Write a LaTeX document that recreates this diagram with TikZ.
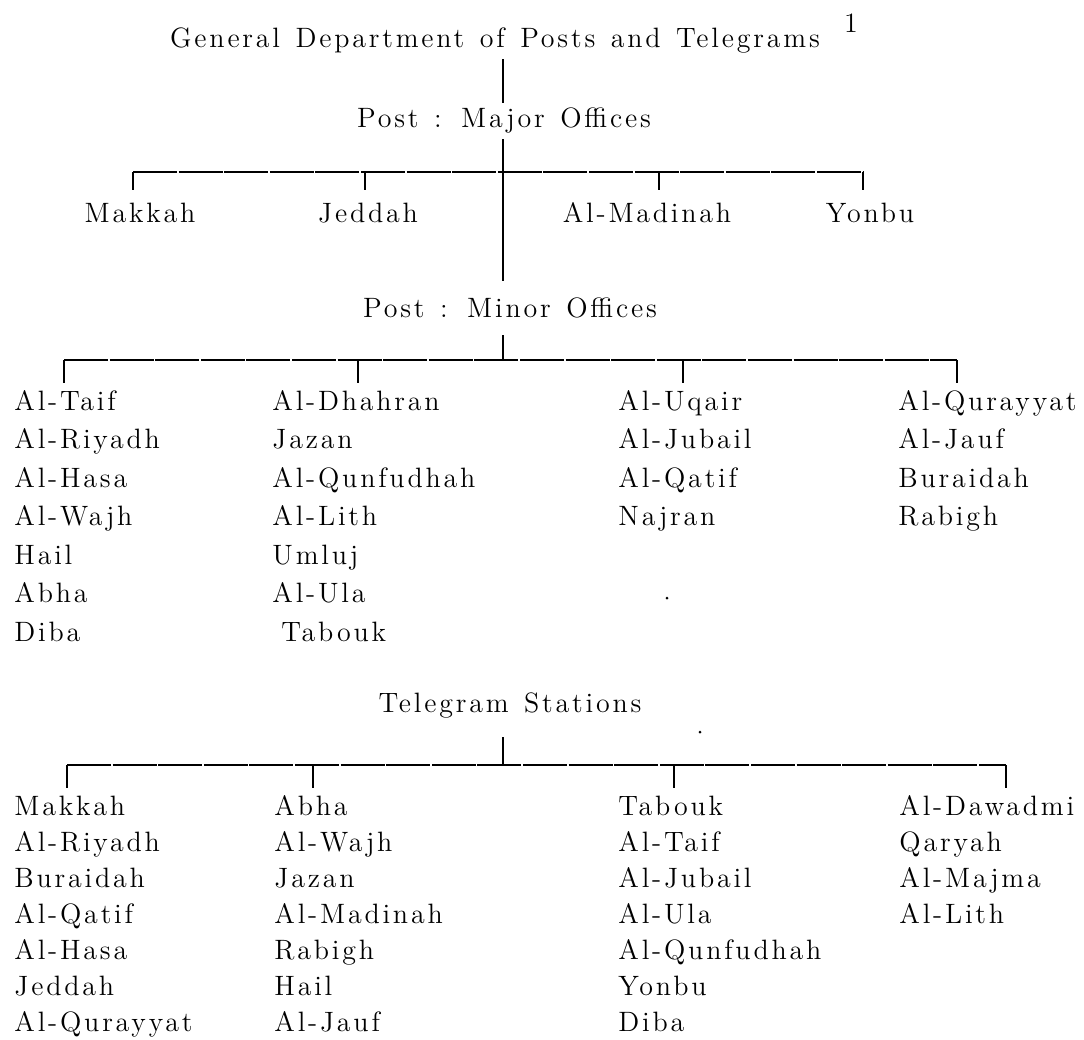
\documentclass[tikz,border=0pt]{standalone}
\usepackage{fontspec}
\setmainfont{Latin Modern Roman}[LetterSpace=10,WordSpace=1.3]
\tikzstyle{txt}=[inner sep=0pt,text height=10pt,text depth=3pt,font=\fontsize{14}{17}\selectfont]
\tikzstyle{head}=[txt,anchor=base]
\tikzstyle{entry}=[txt,anchor=base west]
\tikzstyle{link} = [draw,line width=0.75pt]
\tikzstyle{bar} = [draw,line width=0.75pt,dash pattern=on 22pt off 0.8pt]
\tikzstyle{speck} = [fill,circle,inner sep=0pt,minimum size=1.5pt]

\begin{document}
\begin{tikzpicture}[x=0.5pt,y=-0.5pt]
    \useasboundingbox (0,0) rectangle (1084,1040);
    % First the headings
    \node[head] (gdpt) at (495,47) {General Department of Posts and Telegrams};
    \node[head] (fn) at (851,32) {1};
    \node[head] (major) at (504,127) {Post : Major Offices};
    \node[head] (minor) at (510,317) {Post : Minor Offices};
    \node[head] (tele) at (510,712) {Telegram Stations};

    % Junctions on the trunk
    \coordinate (trunk) at (503,0);
    \coordinate (mjend) at (503,281);
    \coordinate (mnjoin) at (503,360);
    \coordinate (tljoin) at (503,765);

    \draw[link,shorten <=3pt,shorten >=2pt] (gdpt.south -| trunk) -- (major.north -| trunk);
    \draw[link,shorten <=3pt] (major.south -| trunk) -- (mjend);
    \draw[link,shorten <=6pt] (minor.south -| trunk) -- (mnjoin);
    \draw[link,shorten <=9.5pt] (tele.south -| trunk) -- (tljoin);

    % Major offices
    \foreach \x/\name in {133/mj1,365/mj2,659/mj3,863/mj4}
        \coordinate (\name) at (\x,172);
    \foreach \x/\name/\txt in {140/mk/Makkah,368/jd/Jeddah,647/md/Al-Madinah,870/yb/Yonbu}
        \node[head] (\name) at (\x,222) {\txt};
    \draw[bar] (mj1) -- (mj4);
    \foreach \t/\lab in {mj1/mk,mj2/jd,mj3/md,mj4/yb}
        \draw[link,shorten >=6pt] (\t) -- (\t |- \lab.north);

    % Minor offices
    \foreach \x/\name in {64/mn1,358/mn2,683/mn3,957/mn4}
        \coordinate (\name) at (\x,360);
    \foreach \name [count=\i] in {Al-Taif,Al-Riyadh,Al-Hasa,Al-Wajh,Hail,Abha,Diba}
        \node[entry] (mna\i) at (14,{410+38.5*(\i-1)}) {\name};
    \foreach \x/\name [count=\i] in {272/Al-Dhahran,272/Jazan,272/Al-Qunfudhah,272/Al-Lith,272/Umluj,272/Al-Ula,281/Tabouk}
        \node[entry] (mnb\i) at (\x,{410+38.5*(\i-1)}) {\name};
    \foreach \name [count=\i] in {Al-Uqair,Al-Jubail,Al-Qatif,Najran}
        \node[entry] (mnc\i) at (618,{410+38.5*(\i-1)}) {\name};
    \foreach \name [count=\i] in {Al-Qurayyat,Al-Jauf,Buraidah,Rabigh}
        \node[entry] (mnd\i) at (898,{410+38.5*(\i-1)}) {\name};
    \draw[bar] (mn1) -- (mn4);
    \foreach \t/\lab in {mn1/mna1,mn2/mnb1,mn3/mnc1,mn4/mnd1}
        \draw[link,shorten >=3.5pt] (\t) -- (\t |- \lab.north);

    % Telegram stations
    \foreach \x/\name in {67/tl1,313/tl2,674/tl3,1006/tl4}
        \coordinate (\name) at (\x,765);
    \foreach \name [count=\i] in {Makkah,Al-Riyadh,Buraidah,Al-Qatif,Al-Hasa,Jeddah,Al-Qurayyat}
        \node[entry] (tla\i) at (14,{815+36*(\i-1)}) {\name};
    \foreach \name [count=\i] in {Abha,Al-Wajh,Jazan,Al-Madinah,Rabigh,Hail,Al-Jauf}
        \node[entry] (tlb\i) at (274,{815+36*(\i-1)}) {\name};
    \foreach \name [count=\i] in {Tabouk,Al-Taif,Al-Jubail,Al-Ula,Al-Qunfudhah,Yonbu,Diba}
        \node[entry] (tlc\i) at (618,{815+36*(\i-1)}) {\name};
    \foreach \name [count=\i] in {Al-Dawadmi,Qaryah,Al-Majma,Al-Lith}
        \node[entry] (tld\i) at (899,{815+36*(\i-1)}) {\name};
    \draw[bar] (tl1) -- (tl4);
    \foreach \t/\lab in {tl1/tla1,tl2/tlb1,tl3/tlc1,tl4/tld1}
        \draw[link,shorten >=3.5pt] (\t) -- (\t |- \lab.north);

    % stray specks of the copy
    \node[speck] (sp1) at (667,598) {};
    \node[speck] (sp2) at (700,732) {};
\end{tikzpicture}
\end{document}
